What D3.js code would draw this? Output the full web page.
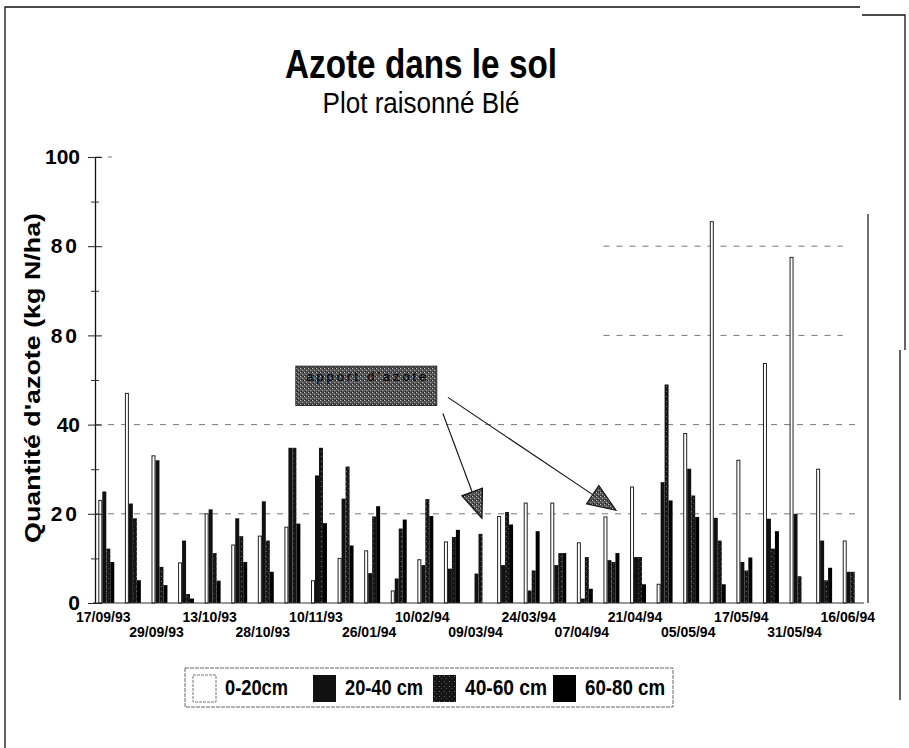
<!DOCTYPE html>
<html>
<head>
<meta charset="utf-8">
<script src="https://cdn.jsdelivr.net/npm/d3@7"></script>
<style>
  body { margin: 0; background: #fff; }
  svg { display: block; }
  text { font-family: "Liberation Sans", Arial, sans-serif; fill: #000; }
</style>
</head>
<body>
<svg width="909" height="748"></svg>
<script>
// dates printed under every second sample
const dateLabels = ["17/09/93", "29/09/93", "13/10/93", "28/10/93", "10/11/93", "26/01/94", "10/02/94",
  "09/03/94", "24/03/94", "07/04/94", "21/04/94", "05/05/94", "17/05/94", "31/05/94", "16/06/94"];
const seriesNames = ["0-20cm", "20-40 cm", "40-60 cm", "60-80 cm"];

// kg N/ha per sample
const depth0_20  = [23, 47, 33, 9, 20, 13, 15, 17, 5, 10, 11.7, 2.7, 9.7, 13.7, 0, 19.4, 22.4, 22.4, 13.5, 19.3, 26, 4.2, 38, 85.5, 32, 53.7, 77.5, 30, 13.9];
const depth20_40 = [25, 22.3, 32, 14, 21, 19, 22.8, 34.8, 28.6, 23.4, 6.7, 5.5, 8.5, 7.7, 6.6, 8.5, 2.8, 8.5, 1, 9.6, 10.3, 27.1, 30.1, 19.1, 9.2, 18.9, 20, 14, 7];
const depth40_60 = [12.2, 19, 8.1, 2, 11.2, 15, 14, 34.8, 34.8, 30.6, 19.4, 16.7, 23.3, 14.8, 15.5, 20.4, 7.3, 11.2, 10.3, 9.2, 10.3, 49, 24.1, 14, 7.3, 12.2, 6, 5.1, 7];
const depth60_80 = [9.2, 5.1, 4, 1, 5, 9.2, 7, 17.8, 17.9, 12.9, 21.7, 18.7, 19.5, 16.4, 0, 17.6, 16.1, 11.2, 3.2, 11.2, 4.2, 23, 19.3, 4.2, 10.2, 16.1, 0, 7.9, 0];

const yTicks = [0, 20, 40, 60, 80, 100];
const yTickLabels = ["0", "20", "40", "80", "80", "100"];   // as printed on the scan
const yMinor = [10, 30, 50, 70, 90];

// annotation : box and two arrows, in (sample index, value)
const noteBox = { i0: 7.13, i1: 12.43, v0: 53.1, v1: 44.3, text: "apport d'azote" };
const noteArrows = [
  { from: [12.66, 42.5], to: [14.13, 19] },
  { from: [12.85, 46.1], to: [19.17, 20.8] }
];

const series = [depth0_20, depth20_40, depth40_60, depth60_80];
const samples = d3.range(depth0_20.length);

const svg = d3.select("svg");

// textures
const defs = svg.append("defs");
const speck = defs.append("pattern")
    .attr("id", "speck").attr("width", 5).attr("height", 5)
    .attr("patternUnits", "userSpaceOnUse");
speck.append("rect").attr("width", 5).attr("height", 5).attr("fill", "#151515");
speck.append("rect").attr("x", 1).attr("y", 1).attr("width", 1).attr("height", 1).attr("fill", "#6a6a6a");
speck.append("rect").attr("x", 3).attr("y", 3).attr("width", 1).attr("height", 1).attr("fill", "#4a4a4a");
const grain = defs.append("pattern")
    .attr("id", "grain").attr("width", 4).attr("height", 4)
    .attr("patternUnits", "userSpaceOnUse");
grain.append("rect").attr("width", 4).attr("height", 4).attr("fill", "#555");
grain.append("rect").attr("x", 0).attr("y", 0).attr("width", 1).attr("height", 1).attr("fill", "#c8c8c8");
grain.append("rect").attr("x", 2).attr("y", 2).attr("width", 1).attr("height", 1).attr("fill", "#aaa");
grain.append("rect").attr("x", 3).attr("y", 0).attr("width", 1).attr("height", 1).attr("fill", "#1a1a1a");
grain.append("rect").attr("x", 1).attr("y", 3).attr("width", 1).attr("height", 1).attr("fill", "#222");

const fills = ["#fff", "#111", "url(#speck)", "#000"];

// scanned page frame
svg.append("path")
    .attr("d", "M5,748V7H860M862,15H905V350M900,350V700")
    .attr("fill", "none").attr("stroke", "#111").attr("stroke-width", 1.3);

const x = d3.scaleBand().domain(samples).range([93, 864]).paddingInner(0.4).paddingOuter(0.2);
const xs = d3.scaleBand().domain(d3.range(4)).range([0, x.bandwidth()]);
const y = d3.scaleLinear().domain([0, 100]).range([603, 157]);
const xc = i => x(0) + x.bandwidth() / 2 + i * x.step();

// title
svg.append("text").attr("x", 421).attr("y", 78)
    .attr("text-anchor", "middle").attr("font-size", 40).attr("font-weight", "bold")
    .attr("textLength", 272).attr("lengthAdjust", "spacingAndGlyphs")
    .text("Azote dans le sol");
svg.append("text").attr("x", 421).attr("y", 113)
    .attr("text-anchor", "middle").attr("font-size", 30)
    .attr("textLength", 197).attr("lengthAdjust", "spacingAndGlyphs")
    .text("Plot raisonné Blé");

// grid
const grid = svg.append("g").attr("stroke", "#555").attr("stroke-width", 0.8)
    .attr("stroke-dasharray", "6,7");
[20, 40].forEach(v => grid.append("line")
    .attr("x1", 95).attr("x2", 862).attr("y1", y(v)).attr("y2", y(v)));
[60, 80].forEach(v => grid.append("line")
    .attr("x1", x(19)).attr("x2", x(27) + x.step()).attr("y1", y(v)).attr("y2", y(v)));
grid.append("line").attr("x1", 95).attr("x2", 112).attr("y1", y(100)).attr("y2", y(100));

// bars
svg.append("g").selectAll("g")
  .data(series)
  .join("g")
    .attr("fill", (d, k) => fills[k])
    .attr("stroke", (d, k) => k === 0 ? "#222" : null)
    .attr("stroke-width", 1)
  .selectAll("rect")
  .data((d, k) => d.map((v, i) => ({ i, k, v })))
  .join("rect")
    .attr("x", d => x(d.i) + xs(d.k) + (d.k === 0 ? 0.5 : 0))
    .attr("y", d => y(d.v))
    .attr("width", d => xs.bandwidth() - (d.k === 0 ? 1 : 0))
    .attr("height", d => y(0) - y(d.v));

// axes
svg.append("line").attr("x1", 93).attr("x2", 864).attr("y1", y(0)).attr("y2", y(0))
    .attr("stroke", "#333").attr("stroke-width", 1);
svg.append("line").attr("x1", 868).attr("x2", 868).attr("y1", 214).attr("y2", y(0))
    .attr("stroke", "#111").attr("stroke-width", 1.2);

const yAxis = svg.append("g").attr("transform", "translate(95,0)")
    .call(d3.axisLeft(y).tickValues(yTicks).tickFormat((d, i) => yTickLabels[i])
      .tickSizeInner(7).tickSizeOuter(0).tickPadding(8));
yAxis.select(".domain").attr("stroke", "#111").attr("stroke-width", 1.3);
yAxis.selectAll(".tick line").attr("x1", 7).attr("stroke", "#222");
yAxis.selectAll(".tick text")
    .attr("font-size", 21).attr("font-weight", "bold")
    .attr("font-family", "'Liberation Sans', Arial, sans-serif")
    .attr("letter-spacing", (d, i) => yTickLabels[i].length === 2 && d !== 40 ? 3 : 0);
svg.append("g").attr("transform", "translate(95,0)")
    .call(d3.axisLeft(y).tickValues(yMinor).tickFormat("").tickSizeInner(4).tickSizeOuter(0))
    .call(g => g.select(".domain").remove())
    .call(g => g.selectAll(".tick line").attr("x1", 4).attr("stroke", "#333"));

svg.append("text")
    .attr("transform", "translate(40,378) rotate(-90)")
    .attr("text-anchor", "middle").attr("font-size", 22).attr("font-weight", "bold")
    .attr("textLength", 330).attr("lengthAdjust", "spacingAndGlyphs")
    .text("Quantité d'azote (kg N/ha)");

// date labels, alternate rows
svg.append("g").selectAll("text")
  .data(dateLabels)
  .join("text")
    .attr("x", (d, k) => xc(k * 2) - 3)
    .attr("y", (d, k) => k % 2 ? 637 : 622)
    .attr("text-anchor", "middle").attr("font-size", 14).attr("font-weight", "bold")
    .text(d => d);

// annotation
const note = svg.append("g");
note.append("rect")
    .attr("x", xc(noteBox.i0)).attr("y", y(noteBox.v0))
    .attr("width", xc(noteBox.i1) - xc(noteBox.i0)).attr("height", y(noteBox.v1) - y(noteBox.v0))
    .attr("fill", "url(#grain)").attr("stroke", "#222");
note.append("text")
    .attr("x", (xc(noteBox.i0) + xc(noteBox.i1)) / 2).attr("y", y(noteBox.v0) + 15)
    .attr("text-anchor", "middle").attr("font-size", 13).attr("fill", "#1c1c1c")
    .attr("textLength", 120).attr("lengthAdjust", "spacing")
    .text(noteBox.text);
noteArrows.forEach(a => {
  const x0 = xc(a.from[0]), y0 = y(a.from[1]);
  const x1 = xc(a.to[0]), y1 = y(a.to[1]);
  const len = Math.hypot(x1 - x0, y1 - y0);
  const ux = (x1 - x0) / len, uy = (y1 - y0) / len;
  const bx = x1 - 28 * ux, by = y1 - 28 * uy;
  note.append("line").attr("x1", x0).attr("y1", y0).attr("x2", bx).attr("y2", by)
      .attr("stroke", "#111").attr("stroke-width", 1.1);
  note.append("path")
      .attr("d", `M${x1},${y1}L${bx - 11 * uy},${by + 11 * ux}L${bx + 11 * uy},${by - 11 * ux}Z`)
      .attr("fill", "url(#grain)").attr("stroke", "#111").attr("stroke-width", 1.2);
});

// legend
const legend = svg.append("g");
legend.append("rect").attr("x", 185).attr("y", 668).attr("width", 488).attr("height", 39)
    .attr("fill", "none").attr("stroke", "#666").attr("stroke-dasharray", "4,1");
const legX = [193, 313, 433, 553];
const legLen = [63, 78, 82, 80];
const item = legend.selectAll("g").data(seriesNames).join("g")
    .attr("transform", (d, k) => `translate(${legX[k]},0)`);
item.append("rect").attr("x", 0).attr("y", 675).attr("width", 23).attr("height", 27)
    .attr("fill", (d, k) => fills[k])
    .attr("stroke", (d, k) => k === 0 ? "#777" : null)
    .attr("stroke-dasharray", (d, k) => k === 0 ? "3,1" : null);
item.append("text").attr("x", 32).attr("y", 695)
    .attr("font-size", 22).attr("font-weight", "bold")
    .attr("textLength", (d, k) => legLen[k]).attr("lengthAdjust", "spacingAndGlyphs")
    .text(d => d);
</script>
</body>
</html>
